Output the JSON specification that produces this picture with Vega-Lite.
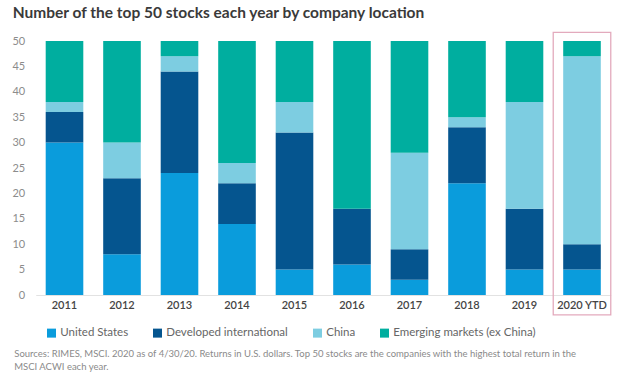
{
  "$schema": "https://vega.github.io/schema/vega-lite/v6.json",
  "autosize": "none",
  "width": 575,
  "height": 254,
  "padding": {"left": 35.75, "top": 41, "right": 13.25, "bottom": 84},
  "background": "white",
  "title": {
    "text": "Number of the top 50 stocks each year by company location",
    "anchor": "start",
    "frame": "group",
    "dx": -23,
    "offset": 10,
    "font": "Lato",
    "fontSize": 15.5,
    "fontWeight": "bold",
    "color": "#3a3a3a"
  },
  "config": {
    "view": {"stroke": null},
    "font": "Lato"
  },
  "layer": [
    {
      "data": {
        "values": [
          {"year": "2011", "region": "United States", "count": 30},
          {"year": "2011", "region": "Developed international", "count": 6},
          {"year": "2011", "region": "China", "count": 2},
          {"year": "2011", "region": "Emerging markets (ex China)", "count": 12},
          {"year": "2012", "region": "United States", "count": 8},
          {"year": "2012", "region": "Developed international", "count": 15},
          {"year": "2012", "region": "China", "count": 7},
          {"year": "2012", "region": "Emerging markets (ex China)", "count": 20},
          {"year": "2013", "region": "United States", "count": 24},
          {"year": "2013", "region": "Developed international", "count": 20},
          {"year": "2013", "region": "China", "count": 3},
          {"year": "2013", "region": "Emerging markets (ex China)", "count": 3},
          {"year": "2014", "region": "United States", "count": 14},
          {"year": "2014", "region": "Developed international", "count": 8},
          {"year": "2014", "region": "China", "count": 4},
          {"year": "2014", "region": "Emerging markets (ex China)", "count": 24},
          {"year": "2015", "region": "United States", "count": 5},
          {"year": "2015", "region": "Developed international", "count": 27},
          {"year": "2015", "region": "China", "count": 6},
          {"year": "2015", "region": "Emerging markets (ex China)", "count": 12},
          {"year": "2016", "region": "United States", "count": 6},
          {"year": "2016", "region": "Developed international", "count": 11},
          {"year": "2016", "region": "China", "count": 0},
          {"year": "2016", "region": "Emerging markets (ex China)", "count": 33},
          {"year": "2017", "region": "United States", "count": 3},
          {"year": "2017", "region": "Developed international", "count": 6},
          {"year": "2017", "region": "China", "count": 19},
          {"year": "2017", "region": "Emerging markets (ex China)", "count": 22},
          {"year": "2018", "region": "United States", "count": 22},
          {"year": "2018", "region": "Developed international", "count": 11},
          {"year": "2018", "region": "China", "count": 2},
          {"year": "2018", "region": "Emerging markets (ex China)", "count": 15},
          {"year": "2019", "region": "United States", "count": 5},
          {"year": "2019", "region": "Developed international", "count": 12},
          {"year": "2019", "region": "China", "count": 21},
          {"year": "2019", "region": "Emerging markets (ex China)", "count": 12},
          {"year": "2020 YTD", "region": "United States", "count": 5},
          {"year": "2020 YTD", "region": "Developed international", "count": 5},
          {"year": "2020 YTD", "region": "China", "count": 37},
          {"year": "2020 YTD", "region": "Emerging markets (ex China)", "count": 3}
        ]
      },
      "transform": [
        {"calculate": "indexof(['United States','Developed international','China','Emerging markets (ex China)'], datum.region)", "as": "stack_rank"}
      ],
      "mark": {"type": "bar"},
      "encoding": {
        "x": {
          "field": "year",
          "type": "nominal",
          "sort": null,
          "scale": {"paddingInner": 0.346, "paddingOuter": 0.173},
          "axis": {
            "labelAngle": 0,
            "ticks": false,
            "domainColor": "#e2e2e2",
            "domainWidth": 1,
            "labelPadding": 4,
            "labelFont": "Lato",
            "labelFontSize": 11,
            "labelFontWeight": 600,
            "labelColor": "#444444",
            "title": ["Sources: RIMES, MSCI. 2020 as of 4/30/20. Returns in U.S. dollars. Top 50 stocks are the companies with the highest total return in the", "MSCI ACWI each year."],
            "titleFont": "Lato",
            "titleFontSize": 9.5,
            "titleFontWeight": "normal",
            "titleColor": "#8a8a8a",
            "titleAlign": "left",
            "titleAnchor": "start",
            "titleBaseline": "top",
            "titleX": -22,
            "titleY": 53,
            "titleLineHeight": 13
          }
        },
        "y": {
          "field": "count",
          "type": "quantitative",
          "stack": "zero",
          "scale": {"domain": [0, 50], "nice": false},
          "axis": {
            "tickCount": 10,
            "labelOverlap": false,
            "grid": false,
            "domain": false,
            "ticks": false,
            "labelPadding": 11,
            "labelFont": "Lato",
            "labelFontSize": 11,
            "labelColor": "#8c8c8c",
            "title": null
          }
        },
        "color": {
          "field": "region",
          "type": "nominal",
          "sort": ["United States", "Developed international", "China", "Emerging markets (ex China)"],
          "scale": {
            "domain": ["United States", "Developed international", "China", "Emerging markets (ex China)"],
            "range": ["#0a9cdc", "#05558f", "#7dcde1", "#00ae9f"]
          },
          "legend": {
            "title": null,
            "orient": "none",
            "direction": "horizontal",
            "columns": 4,
            "legendX": 10,
            "legendY": 286,
            "symbolType": "square",
            "symbolSize": 81,
            "symbolStrokeWidth": 0,
            "labelFont": "Lato",
            "labelFontSize": 11.5,
            "labelColor": "#666666",
            "labelOffset": 3,
            "columnPadding": 23
          }
        },
        "order": {"field": "stack_rank", "type": "quantitative"}
      }
    },
    {
      "data": {"values": [{}]},
      "mark": {"type": "bar", "fill": null, "stroke": "#e3aabd", "strokeWidth": 1.3, "width": {"band": 1.53}},
      "encoding": {
        "x": {"datum": "2020 YTD"},
        "y": {"datum": 51.7},
        "y2": {"datum": -3.9}
      }
    }
  ]
}
